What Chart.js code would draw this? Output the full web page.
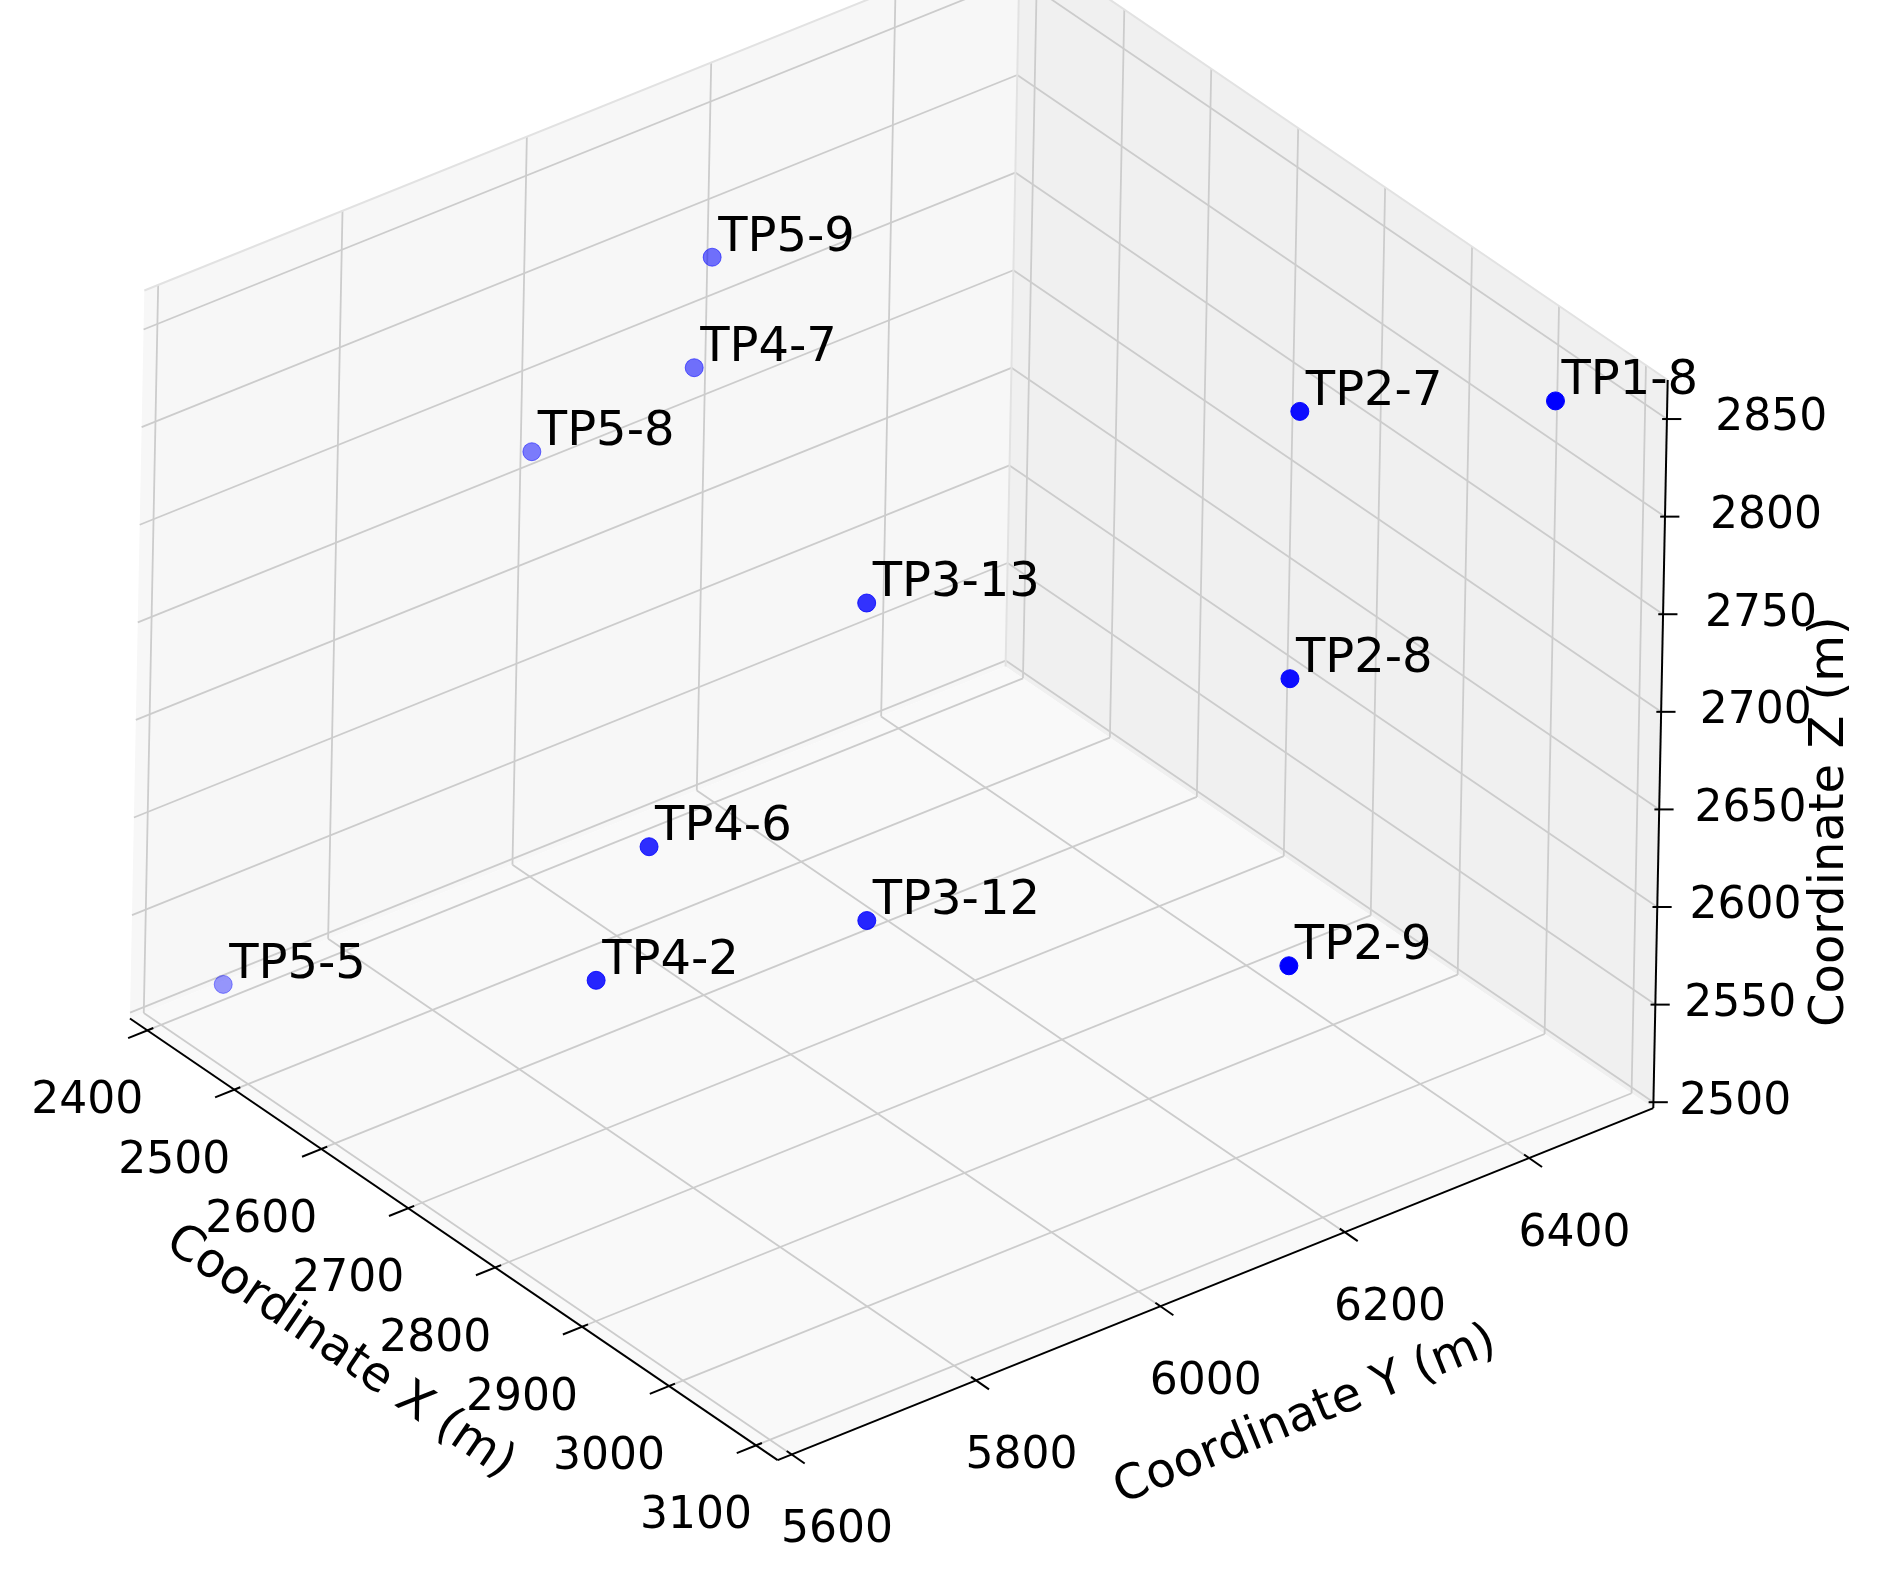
<!DOCTYPE html>
<html><head><meta charset="utf-8">
<script src="https://cdn.jsdelivr.net/npm/chart.js@4/dist/chart.umd.min.js"></script>
<style>html,body{margin:0;padding:0;background:#fff}#wrap{width:1896px;height:1574px}</style>
</head><body><div id="wrap"><canvas id="c"></canvas></div>
<script>
const names = ["TP5-5","TP5-8","TP5-9","TP4-2","TP4-6","TP4-7","TP3-12","TP3-13","TP2-9","TP2-8","TP2-7","TP1-8"];
const xs = [2400,2400,2400,2600,2600,2600,2800,2800,2950,2950,2950,3050];
const ys = [5667,5993,6186,5882,5937,5976,5984,5977,6302,6297,6302,6485];
const zs = [2505,2716,2779,2527,2585,2823,2599,2763,2561,2709,2845,2846];
const alphas = [0.4,0.5,0.55,0.85,0.82,0.55,0.85,0.8,1,0.95,0.95,1];
const xTicks = [2400,2500,2600,2700,2800,2900,3000,3100];
const yTicks = [5600,5800,6000,6200,6400];
const zTicks = [2500,2550,2600,2650,2700,2750,2800,2850];
const XL=[2380,3125], YL=[5585,6535], ZL=[2497,2870];

function proj(x,y,z){
  const a=(XL[1]-x)/(XL[1]-XL[0]), b=(y-YL[0])/(YL[1]-YL[0]), c=(z-ZL[0])/(ZL[1]-ZL[0]);
  return {x:640-540*a+730*b+12*c, y:1215-370*a-295*b-610*c, a, b, c};
}
const pts = names.map((n,i)=>proj(xs[i],ys[i],zs[i]));
const colors = alphas.map(t=>`rgba(0,0,255,${t})`);

const scene = {
  id:'scene',
  beforeDatasetsDraw(chart){
    const ctx=chart.ctx, sx=chart.scales.x, sy=chart.scales.y;
    const P=(x,y,z)=>{const p=proj(x,y,z);return [sx.getPixelForValue(p.x), sy.getPixelForValue(p.y)];};
    const poly=(arr,fill)=>{ctx.beginPath();arr.forEach((q,i)=>{const p=P(...q);i?ctx.lineTo(...p):ctx.moveTo(...p);});ctx.closePath();ctx.fillStyle=fill;ctx.fill();};
    const line=(q1,q2,col,w)=>{const a=P(...q1),b=P(...q2);ctx.beginPath();ctx.moveTo(...a);ctx.lineTo(...b);ctx.strokeStyle=col;ctx.lineWidth=w;ctx.stroke();};
    ctx.save();
    poly([[XL[0],YL[0],ZL[0]],[XL[0],YL[1],ZL[0]],[XL[0],YL[1],ZL[1]],[XL[0],YL[0],ZL[1]]],'#f7f7f7');
    poly([[XL[0],YL[1],ZL[0]],[XL[1],YL[1],ZL[0]],[XL[1],YL[1],ZL[1]],[XL[0],YL[1],ZL[1]]],'#f0f0f0');
    poly([[XL[0],YL[0],ZL[0]],[XL[1],YL[0],ZL[0]],[XL[1],YL[1],ZL[0]],[XL[0],YL[1],ZL[0]]],'#f9f9f9');
    const g='#cccccc', gw=1.8;
    xTicks.forEach(x=>{line([x,YL[0],ZL[0]],[x,YL[1],ZL[0]],g,gw);line([x,YL[1],ZL[0]],[x,YL[1],ZL[1]],g,gw);});
    yTicks.forEach(y=>{line([XL[0],y,ZL[0]],[XL[1],y,ZL[0]],g,gw);line([XL[0],y,ZL[0]],[XL[0],y,ZL[1]],g,gw);});
    zTicks.forEach(z=>{line([XL[0],YL[0],z],[XL[0],YL[1],z],g,gw);line([XL[0],YL[1],z],[XL[1],YL[1],z],g,gw);});
    const e='#e2e2e2';
    line([XL[0],YL[0],ZL[1]],[XL[0],YL[1],ZL[1]],e,2);line([XL[0],YL[1],ZL[1]],[XL[1],YL[1],ZL[1]],e,2);
    line([XL[0],YL[1],ZL[0]],[XL[0],YL[1],ZL[1]],e,2);
    const k='#000';
    line([XL[0],YL[0],ZL[0]],[XL[1],YL[0],ZL[0]],k,2);
    line([XL[1],YL[0],ZL[0]],[XL[1],YL[1],ZL[0]],k,2);
    line([XL[1],YL[1],ZL[0]],[XL[1],YL[1],ZL[1]],k,2);
    ctx.font='44px "DejaVu Sans"';ctx.fillStyle='#000';ctx.textAlign='center';ctx.textBaseline='middle';
    ctx.strokeStyle='#000';ctx.lineWidth=2;
    const fx=sx.getPixelForValue(100)-sx.getPixelForValue(0), fy=sy.getPixelForValue(100)-sy.getPixelForValue(0);
    xTicks.forEach(x=>{const a=P(x,YL[0],ZL[0]);ctx.beginPath();ctx.moveTo(a[0]+0.05*fx,a[1]-0.02*fy);ctx.lineTo(a[0]-0.16*fx,a[1]+0.065*fy);ctx.stroke();
      ctx.fillText(String(x),a[0]-0.5*fx,a[1]+0.6*fy);});
    yTicks.forEach(y=>{const a=P(XL[1],y,ZL[0]);ctx.beginPath();ctx.moveTo(a[0]-0.04*fx,a[1]-0.03*fy);ctx.lineTo(a[0]+0.11*fx,a[1]+0.075*fy);ctx.stroke();
      ctx.fillText(String(y),a[0]+0.38*fx,a[1]+0.64*fy);});
    zTicks.forEach(z=>{const a=P(XL[1],YL[1],z);ctx.beginPath();ctx.moveTo(a[0]-0.04*fx,a[1]);ctx.lineTo(a[0]+0.12*fx,a[1]);ctx.stroke();
      const c=proj(XL[1],YL[1],z).c;ctx.fillText(String(z),a[0]+(0.68+0.2*c)*fx,a[1]);});
    ctx.font='48px "DejaVu Sans"';
    const rot=(t,px,py,ang)=>{ctx.save();ctx.translate(sx.getPixelForValue(px),sy.getPixelForValue(py));ctx.rotate(ang);ctx.fillText(t,0,0);ctx.restore();};
    rot('Coordinate X (m)',275,1125,Math.atan2(370,540));
    rot('Coordinate Y (m)',1080,1178,-Math.atan2(295,730));
    rot('Coordinate Z (m)',1518,680,-Math.PI/2);
    ctx.restore();
  },
  afterDatasetsDraw(chart){
    const ctx=chart.ctx, sx=chart.scales.x, sy=chart.scales.y;
    ctx.save();ctx.font='48px "DejaVu Sans"';ctx.fillStyle='#000';ctx.textAlign='left';ctx.textBaseline='middle';
    pts.forEach((p,i)=>ctx.fillText(names[i],sx.getPixelForValue(p.x)+6,sy.getPixelForValue(p.y)-19));
    ctx.restore();
  }
};

new Chart(document.getElementById('c'),{
  type:'scatter',
  data:{datasets:[{data:pts.map(p=>({x:p.x,y:p.y})),pointBackgroundColor:colors,pointBorderColor:colors,pointRadius:9,pointHoverRadius:9}]},
  options:{responsive:true,maintainAspectRatio:false,animation:false,
    layout:{padding:0},
    plugins:{legend:{display:false},tooltip:{enabled:false}},
    scales:{x:{type:'linear',min:0,max:1564,display:false},y:{type:'linear',min:0,max:1302,reverse:true,display:false}}},
  plugins:[scene]
});
</script></body></html>
